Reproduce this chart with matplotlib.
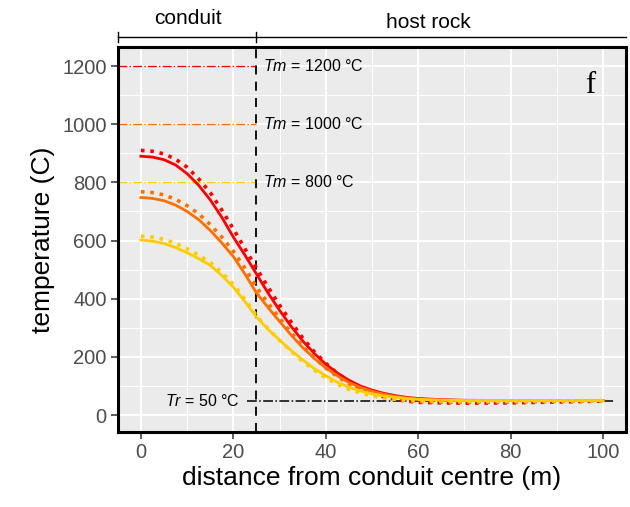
import numpy as np
import matplotlib
matplotlib.use('Agg')
import matplotlib.pyplot as plt
from matplotlib.ticker import MultipleLocator

plt.rcParams['font.family'] = ['Liberation Sans', 'DejaVu Sans']
plt.rcParams['mathtext.fontset'] = 'custom'
plt.rcParams['mathtext.it'] = 'Liberation Sans:italic'
plt.rcParams['mathtext.rm'] = 'Liberation Sans'

# distance from conduit centre (m)
dist = [0, 2.5, 5, 7.5, 10, 12.5, 15, 17.5, 20, 22.5, 25, 27.5, 30, 32.5, 35,
        37.5, 40, 42.5, 45, 47.5, 50, 52.5, 55, 57.5, 60, 65, 70, 80, 90, 100]

# model (solid)
red_model = [890, 887, 878, 860, 830, 790, 740, 680, 612, 550, 485, 420, 360, 305, 255,
             212, 175, 145, 120, 100, 86, 75, 67, 61, 57, 53, 51, 50, 50, 50]
orange_model = [748, 745, 737, 722, 700, 672, 635, 592, 545, 485, 420, 370, 322, 275, 232,
                195, 162, 135, 112, 95, 82, 72, 64, 59, 55, 52, 50, 50, 50, 50]
yellow_model = [602, 598, 590, 576, 558, 538, 515, 480, 440, 390, 337, 295, 258, 222, 190,
                160, 135, 113, 96, 83, 73, 66, 61, 57, 54, 51, 50, 50, 50, 50]

# simulation (dotted)
red_sim = [910, 907, 898, 880, 852, 812, 765, 705, 640, 572, 505, 440, 378, 320, 265,
           218, 178, 143, 115, 93, 76, 63, 54, 48, 44, 42, 41, 42, 45, 48]
orange_sim = [768, 765, 757, 742, 720, 692, 655, 612, 563, 505, 440, 385, 333, 283, 237,
              197, 162, 132, 108, 89, 75, 64, 56, 51, 47, 45, 44, 45, 47, 49]
yellow_sim = [615, 612, 604, 590, 572, 550, 525, 490, 450, 398, 342, 297, 257, 219, 185,
              155, 128, 106, 89, 76, 66, 59, 54, 51, 49, 48, 47, 48, 49, 50]

colors = ['#FF0000', '#FF6F00', '#FFCC00']
tm_values = [1200, 1000, 800]
tr_value = 50
conduit_radius = 25

fig = plt.figure(figsize=(6.3, 5.07), dpi=100)
ax = fig.add_axes([0.187, 0.148, 0.807, 0.759])
ax.set_facecolor('#EBEBEB')

ax.set_xlim(-5, 105)
ax.set_ylim(-58, 1265)
ax.xaxis.set_major_locator(MultipleLocator(20))
ax.xaxis.set_minor_locator(MultipleLocator(10))
ax.yaxis.set_major_locator(MultipleLocator(200))
ax.yaxis.set_minor_locator(MultipleLocator(100))
ax.grid(which='major', color='white', lw=1.4)
ax.grid(which='minor', color='white', lw=0.7)
ax.set_axisbelow(True)
ax.tick_params(which='minor', length=0)
ax.tick_params(which='major', length=5, width=1.1, color='#333333',
               labelcolor='#4D4D4D', labelsize=14.5, pad=3)
for s in ax.spines.values():
    s.set_linewidth(2.2)
    s.set_color('black')

# melt temperature lines
for tm, c in zip(tm_values, colors):
    ax.plot([-5, conduit_radius], [tm, tm], color=c, lw=1, ls='-.')
    ax.text(conduit_radius + 1.5, tm, r'$Tm$ = %d °C' % tm,
            va='center', ha='left', fontsize=11.5)

ax.plot([23, 102.5], [tr_value, tr_value], color='black', lw=1.1, ls='-.')
ax.text(21.5, tr_value, r'$Tr$ = %d °C' % tr_value, va='center', ha='right', fontsize=11.5)

ax.axvline(conduit_radius, color='black', lw=1.3, ls=(0, (5, 4)))

for model, sim, c in zip([red_model, orange_model, yellow_model],
                         [red_sim, orange_sim, yellow_sim], colors):
    ax.plot(dist, sim, color=c, lw=2.6, ls=(0, (1, 1.6)))
    ax.plot(dist, model, color=c, lw=2.0)

ax.text(0.93, 0.9, 'f', transform=ax.transAxes, fontsize=22,
        family='Liberation Serif', ha='center', va='center')

ax.set_xlabel('distance from conduit centre (m)', fontsize=19, labelpad=3)
ax.set_ylabel('temperature (C)', fontsize=19, labelpad=5)

# region bracket above panel
tr = ax.get_xaxis_transform()
ax.plot([-5, 105], [1.026, 1.026], color='black', lw=1, transform=tr, clip_on=False)
for xv in [-5, conduit_radius]:
    ax.plot([xv, xv], [1.013, 1.039], color='black', lw=1, transform=tr, clip_on=False)
ax.text(10.2, 1.075, 'conduit', transform=tr, ha='center', va='center', fontsize=15)
ax.text(62.2, 1.063, 'host rock', transform=tr, ha='center', va='center', fontsize=15)

fig.savefig('out.png', dpi=100)
